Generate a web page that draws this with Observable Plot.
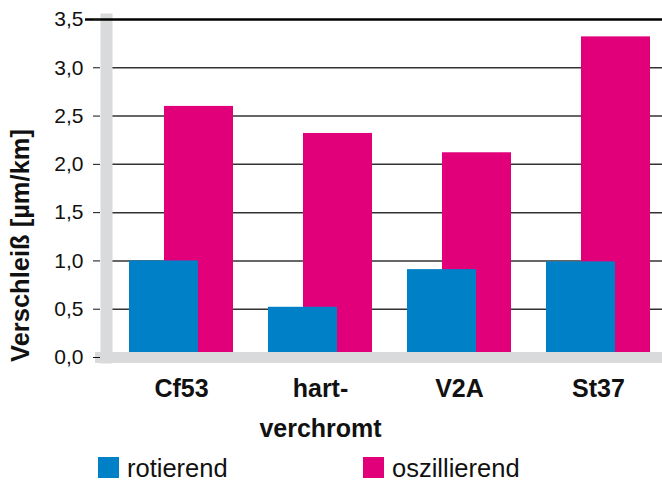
<!DOCTYPE html>
<html>
<head>
<meta charset="utf-8">
<script src="https://cdn.jsdelivr.net/npm/d3@7"></script>
<script src="https://cdn.jsdelivr.net/npm/@observablehq/plot@0.6"></script>
<style>
  html, body { margin: 0; padding: 0; background: #fff; }
  #wrap { position: relative; width: 662px; height: 481px; font-family: "Liberation Sans", Arial, Helvetica, sans-serif; }
  .sw { position: absolute; width: 21px; height: 21px; }
  .lt { position: absolute; font-size: 25.5px; line-height: 26px; color: #111; }
</style>
</head>
<body>
<div id="wrap"></div>
<script>
const categories = ["Cf53", "hartverchromt", "V2A", "St37"];
const tickLabels = ["Cf53", "hart-\nverchromt", "V2A", "St37"];
const rotierend = [1.0, 0.52, 0.91, 0.99];
const oszillierend = [2.6, 2.32, 2.12, 3.32];
const yTicks = [0, 0.5, 1.0, 1.5, 2.0, 2.5, 3.0, 3.5];
const yTickLabels = ["0,0", "0,5", "1,0", "1,5", "2,0", "2,5", "3,0", "3,5"];
const seriesNames = ["rotierend", "oszillierend"];
const seriesColors = ["#0080c6", "#e2007a"];
const yTitle = "Verschleiß [µm/km]";

const table = categories.map((c, i) => ({cat: c, rot: rotierend[i], osz: oszillierend[i]}));

const plot = Plot.plot({
  width: 662,
  height: 450,
  marginTop: 19,
  marginBottom: 93,
  marginLeft: 100,
  marginRight: 0,
  style: {fontFamily: '"Liberation Sans", Arial, Helvetica, sans-serif', fontSize: "20px", color: "#111", background: "white"},
  x: {domain: categories, range: [128, 652], paddingInner: 0.25, paddingOuter: 0, axis: null},
  y: {domain: [0, 3.5], axis: null},
  marks: [
    Plot.gridY(yTicks.filter(v => v > 0 && v < 3.5), {stroke: "#333", strokeOpacity: 1, strokeWidth: 1.5, insetLeft: 12}),
    Plot.barY(table, {x: "cat", y: "osz", fill: seriesColors[1], insetLeft: 35}),
    Plot.barY(table, {x: "cat", y: "rot", fill: seriesColors[0], insetRight: 35}),
    Plot.frame({anchor: "left", stroke: "#d9dadc", strokeWidth: 12, insetLeft: 6}),
    Plot.frame({anchor: "bottom", stroke: "#d9dadc", strokeWidth: 11}),
    Plot.ruleY([3.5], {stroke: "#000", strokeWidth: 2.5, insetLeft: -15}),
    Plot.axisY({ticks: yTicks, tickSize: 7, tickFormat: () => "", label: null, stroke: "#111"}),
    Plot.text(yTicks, {y: d => d, text: yTickLabels, frameAnchor: "left", textAnchor: "end", dx: -17, fontSize: 21, fill: "#111"}),
    Plot.text(tickLabels, {x: categories, text: tickLabels, frameAnchor: "bottom", dy: 11, lineAnchor: "top", lineHeight: 1.6, fontSize: 25, fontWeight: "bold", fill: "#111"}),
    Plot.text([yTitle], {text: d => d, frameAnchor: "left", textAnchor: "middle", rotate: -90, dx: -80, dy: 57, fontSize: 25.5, fontWeight: "bold", fill: "#111"})
  ]
});

const wrap = document.getElementById("wrap");
wrap.appendChild(plot);
const legendX = [[98, 127], [363, 392]];
seriesNames.forEach((name, i) => {
  const sw = document.createElement("div");
  sw.className = "sw";
  sw.style.left = legendX[i][0] + "px";
  sw.style.top = "457px";
  sw.style.background = seriesColors[i];
  wrap.appendChild(sw);
  const t = document.createElement("div");
  t.className = "lt";
  t.style.left = legendX[i][1] + "px";
  t.style.top = "455px";
  t.textContent = name;
  wrap.appendChild(t);
});
</script>
</body>
</html>
